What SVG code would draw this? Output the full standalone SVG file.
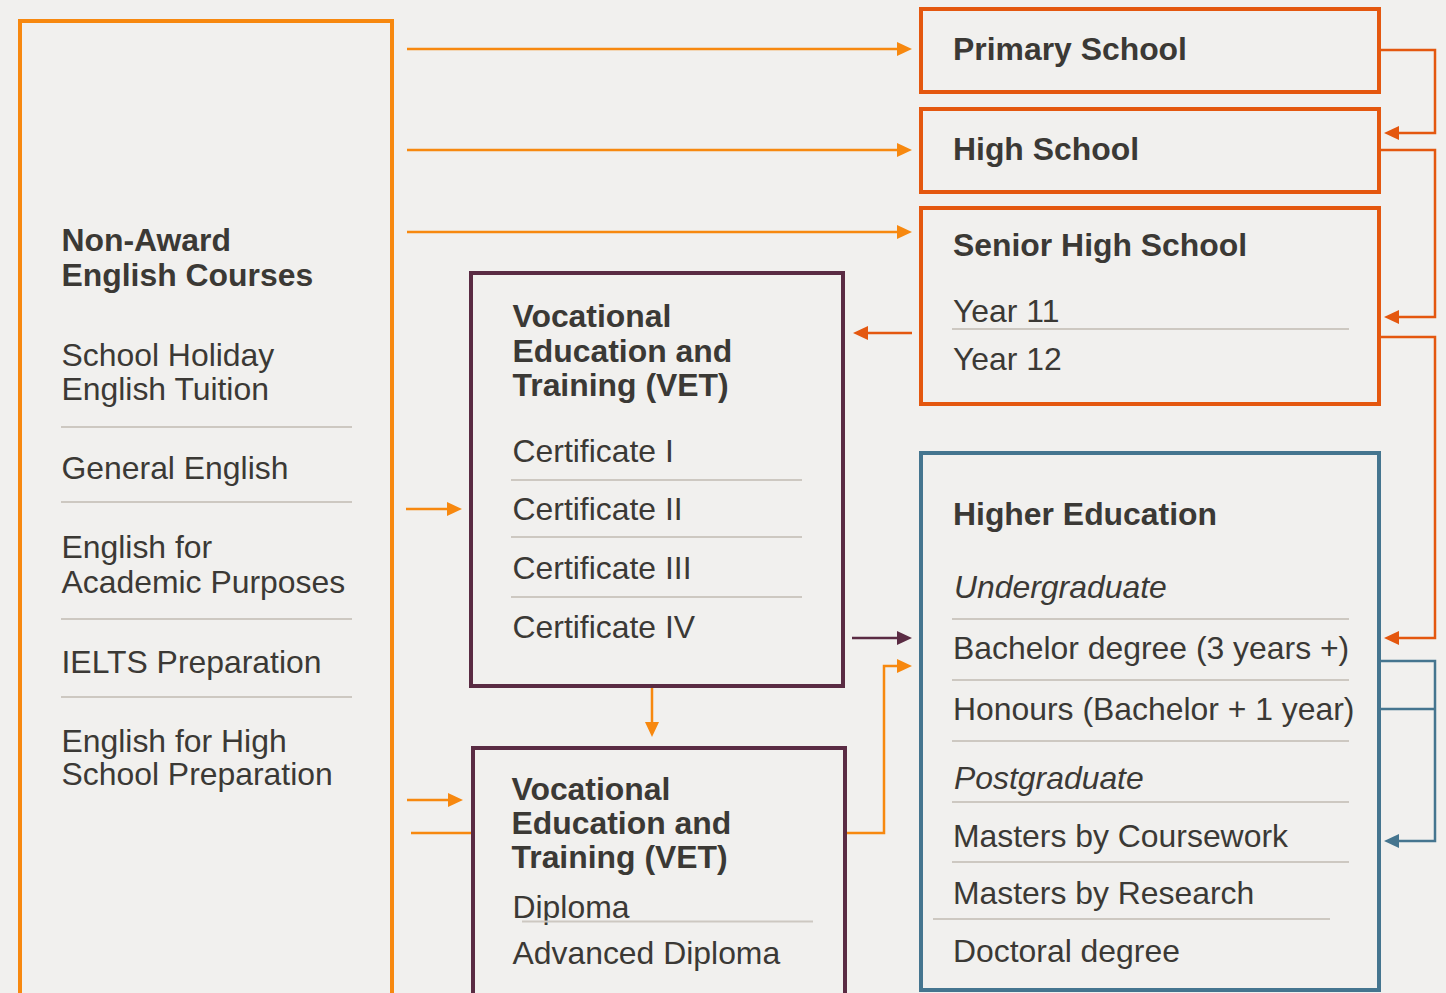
<svg xmlns="http://www.w3.org/2000/svg" width="1446" height="993" viewBox="0 0 1446 993">
<style>
.t{font-family:"Liberation Sans",Arial,sans-serif;font-size:31.9px;fill:#3b3935}
.b{font-weight:bold}
.i{font-style:italic}
.sep{stroke:#cdc8c1;stroke-width:1.8;fill:none}
.box{fill:#f1f0ee;stroke-width:4}
.or{stroke:#f7880f}
.rd{stroke:#e4570f}
.pu{stroke:#5a2b43}
.bl{stroke:#45758f}
.c{fill:none;stroke-width:2.5}
</style>
<defs>
<marker id="aOr" markerUnits="userSpaceOnUse" markerWidth="15" markerHeight="14" refX="7" refY="7" orient="auto"><path d="M0,0 L15,7 L0,14 z" fill="#f7880f"/></marker>
<marker id="aRd" markerUnits="userSpaceOnUse" markerWidth="15" markerHeight="14" refX="7" refY="7" orient="auto"><path d="M0,0 L15,7 L0,14 z" fill="#e4570f"/></marker>
<marker id="aPu" markerUnits="userSpaceOnUse" markerWidth="15" markerHeight="14" refX="7" refY="7" orient="auto"><path d="M0,0 L15,7 L0,14 z" fill="#5a2b43"/></marker>
<marker id="aBl" markerUnits="userSpaceOnUse" markerWidth="15" markerHeight="14" refX="7" refY="7" orient="auto"><path d="M0,0 L15,7 L0,14 z" fill="#45758f"/></marker>
</defs>
<rect x="0" y="0" width="1446" height="993" fill="#f1f0ee"/>
<g id="connectors">
<path class="c or" d="M407,49 H904" marker-end="url(#aOr)"/>
<path class="c or" d="M407,150 H904" marker-end="url(#aOr)"/>
<path class="c or" d="M407,232 H904" marker-end="url(#aOr)"/>
<path class="c or" d="M406,509 H454" marker-end="url(#aOr)"/>
<path class="c or" d="M407,800 H455" marker-end="url(#aOr)"/>
<path class="c or" d="M411,833 H884 V666 H904" marker-end="url(#aOr)"/>
<path class="c or" d="M652,682 V729" marker-end="url(#aOr)"/>
<path class="c rd" d="M1381,50 H1435 V133 H1392" marker-end="url(#aRd)"/>
<path class="c rd" d="M1381,150 H1435 V317 H1392" marker-end="url(#aRd)"/>
<path class="c rd" d="M1381,337 H1435 V638 H1392" marker-end="url(#aRd)"/>
<path class="c rd" d="M912,333 H861" marker-end="url(#aRd)"/>
<path class="c pu" d="M852,638 H904" marker-end="url(#aPu)"/>
<path class="c bl" d="M1381,661 H1435 V841 H1392" marker-end="url(#aBl)"/>
<path class="c bl" d="M1381,709 H1435"/>
</g>
<g id="non-award">
<rect class="box or" x="20" y="21" width="372" height="1000" stroke-width="3.5"/>
<text class="t b" x="61.5" y="251">Non-Award</text>
<text class="t b" x="61.5" y="286">English Courses</text>
<text class="t" x="61.5" y="366">School Holiday</text>
<text class="t" x="61.5" y="400">English Tuition</text>
<line class="sep" x1="61" y1="427" x2="352" y2="427"/>
<text class="t" x="61.5" y="479">General English</text>
<line class="sep" x1="61" y1="502" x2="352" y2="502"/>
<text class="t" x="61.5" y="558">English for</text>
<text class="t" x="61.5" y="593">Academic Purposes</text>
<line class="sep" x1="61" y1="619" x2="352" y2="619"/>
<text class="t" x="61.5" y="673">IELTS Preparation</text>
<line class="sep" x1="61" y1="697" x2="352" y2="697"/>
<text class="t" x="61.5" y="752">English for High</text>
<text class="t" x="61.5" y="785">School Preparation</text>
</g>
<g id="vet-cert">
<rect class="box pu" x="471" y="273" width="372" height="413"/>
<text class="t b" x="512.5" y="327">Vocational</text>
<text class="t b" x="512.5" y="362">Education and</text>
<text class="t b" x="512.5" y="396">Training (VET)</text>
<text class="t" x="512.5" y="462">Certificate I</text>
<line class="sep" x1="511" y1="480" x2="802" y2="480"/>
<text class="t" x="512.5" y="520">Certificate II</text>
<line class="sep" x1="511" y1="537" x2="802" y2="537"/>
<text class="t" x="512.5" y="579">Certificate III</text>
<line class="sep" x1="511" y1="597" x2="802" y2="597"/>
<text class="t" x="512.5" y="638">Certificate IV</text>
</g>
<g id="vet-diploma">
<rect class="box pu" x="473" y="748" width="372" height="300"/>
<text class="t b" x="511.5" y="800">Vocational</text>
<text class="t b" x="511.5" y="834">Education and</text>
<text class="t b" x="511.5" y="868">Training (VET)</text>
<text class="t" x="512.5" y="918">Diploma</text>
<line class="sep" x1="522" y1="921.5" x2="813" y2="921.5"/>
<text class="t" x="512.5" y="964">Advanced Diploma</text>
</g>
<g id="primary">
<rect class="box rd" x="921" y="9" width="458" height="83"/>
<text class="t b" x="953" y="60">Primary School</text>
</g>
<g id="high">
<rect class="box rd" x="921" y="109" width="458" height="83"/>
<text class="t b" x="953" y="160">High School</text>
</g>
<g id="senior-high">
<rect class="box rd" x="921" y="208" width="458" height="196"/>
<text class="t b" x="953" y="256">Senior High School</text>
<text class="t" x="953" y="322">Year 11</text>
<line class="sep" x1="952" y1="329" x2="1349" y2="329"/>
<text class="t" x="953" y="370">Year 12</text>
</g>
<g id="higher-education">
<rect class="box bl" x="921" y="453" width="458" height="537"/>
<text class="t b" x="953" y="525">Higher Education</text>
<text class="t i" x="954" y="598">Undergraduate</text>
<line class="sep" x1="952" y1="619" x2="1349" y2="619"/>
<text class="t" x="953" y="659">Bachelor degree (3 years +)</text>
<line class="sep" x1="952" y1="680" x2="1349" y2="680"/>
<text class="t" x="953" y="720">Honours (Bachelor + 1 year)</text>
<line class="sep" x1="952" y1="741" x2="1349" y2="741"/>
<text class="t i" x="954" y="789">Postgraduate</text>
<line class="sep" x1="952" y1="802" x2="1349" y2="802"/>
<text class="t" x="953" y="847">Masters by Coursework</text>
<line class="sep" x1="952" y1="862" x2="1349" y2="862"/>
<text class="t" x="953" y="904">Masters by Research</text>
<line class="sep" x1="933" y1="919" x2="1330" y2="919"/>
<text class="t" x="953" y="962">Doctoral degree</text>
</g>
</svg>
